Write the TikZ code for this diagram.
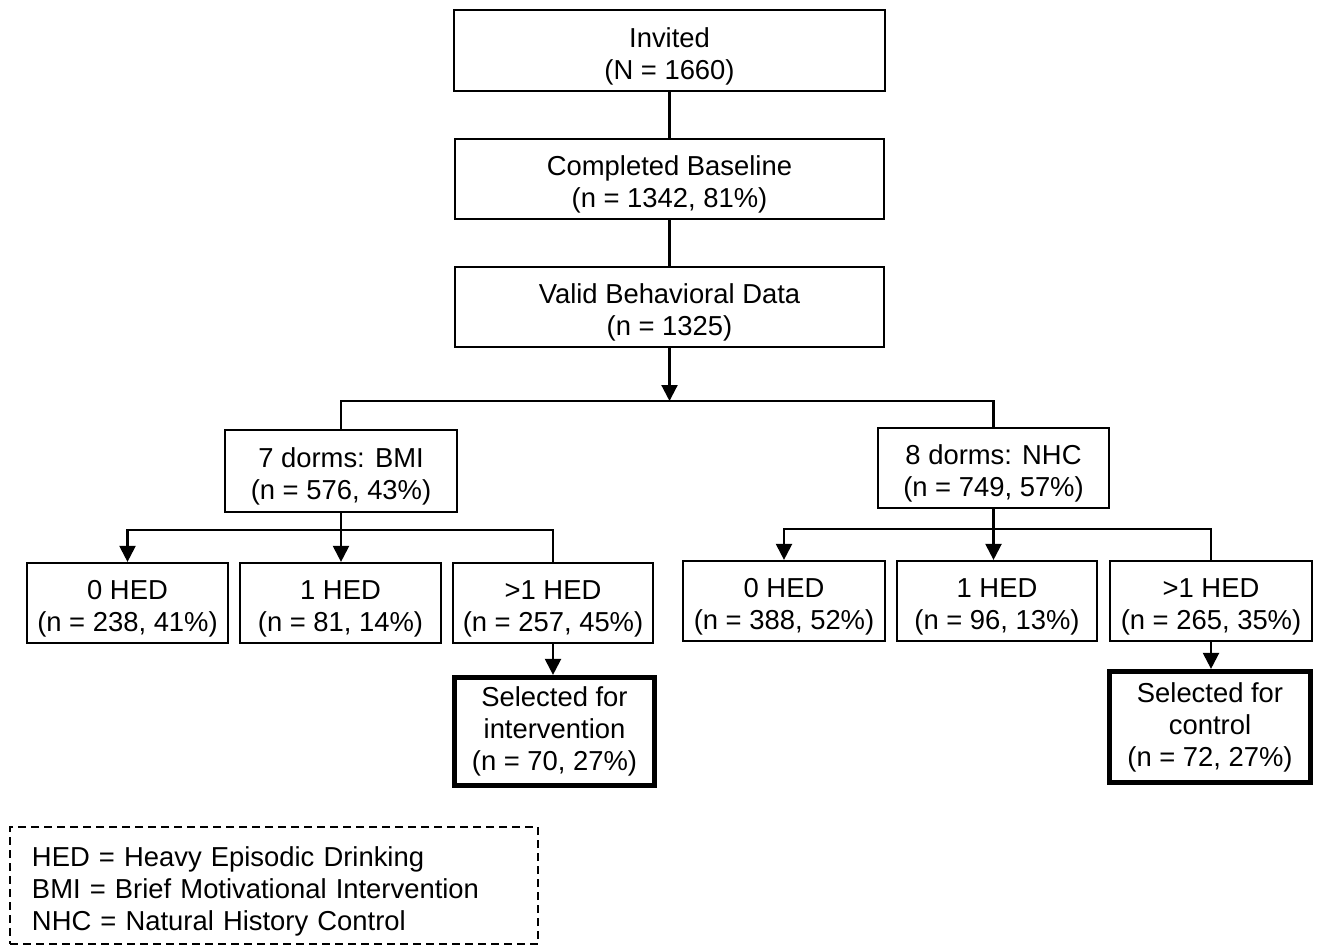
\documentclass[tikz,border=0pt]{standalone}
\usepackage{fontspec}
\setmainfont{Liberation Sans}
\usetikzlibrary{arrows.meta}
\newcommand\topstrut{\rule{0pt}{15.5pt}}
\tikzset{
  box/.style={draw, line width=1.1pt, rectangle, inner sep=0pt, align=center,
    font=\fontsize{13.7}{16}\selectfont},
  selbox/.style={box, line width=2.6pt},
  conn/.style={line width=1.1pt},
  arr/.style={conn, -{Triangle[length=8pt,width=8pt]}},
  legendbox/.style={draw, line width=1.1pt, dash pattern=on 4pt off 2.5pt,
    inner xsep=11pt, inner ysep=0pt, align=left, text width=242pt,
    font=\fontsize{13.7}{16}\selectfont, execute at begin node={\rule{0pt}{16pt}}}
}
\begin{document}
\begin{tikzpicture}[x=0.5pt,y=-0.5pt]
\useasboundingbox (0,0) rectangle (1320,946);
% top chain
\node[box, minimum width=215.5pt, minimum height=40.5pt] (inv) at (669.5,50.5) {\topstrut Invited\\(N = 1660)};
\node[box, minimum width=214.5pt, minimum height=40pt] (base) at (669.5,179) {\topstrut Completed Baseline\\(n = 1342, 81\%)};
\node[box, minimum width=214.5pt, minimum height=40pt] (valid) at (669.5,307) {\topstrut Valid Behavioral Data\\(n = 1325)};
% arms
\node[box, minimum width=116pt, minimum height=41pt] (bmi) at (341,471) {\topstrut 7 dorms: BMI\\(n = 576, 43\%)};
\node[box, minimum width=115.5pt, minimum height=40pt] (nhc) at (993.5,468) {\topstrut 8 dorms: NHC\\(n = 749, 57\%)};
% BMI children
\node[box, minimum width=100.5pt, minimum height=40pt] (b0) at (127.5,603) {\topstrut 0 HED\\(n = 238, 41\%)};
\node[box, minimum width=100.5pt, minimum height=40pt] (b1) at (340.5,603) {\topstrut 1 HED\\(n = 81, 14\%)};
\node[box, minimum width=100pt, minimum height=40pt] (b2) at (553,603) {\topstrut >1 HED\\(n = 257, 45\%)};
\node[selbox, minimum width=100pt, minimum height=54pt] (bsel) at (554.5,731.5) {Selected for\\intervention\\(n = 70, 27\%)};
% NHC children
\node[box, minimum width=101pt, minimum height=40pt] (n0) at (784,601) {\topstrut 0 HED\\(n = 388, 52\%)};
\node[box, minimum width=100pt, minimum height=40pt] (n1) at (997,601) {\topstrut 1 HED\\(n = 96, 13\%)};
\node[box, minimum width=101pt, minimum height=40pt] (n2) at (1211,601) {\topstrut >1 HED\\(n = 265, 35\%)};
\node[selbox, minimum width=100.5pt, minimum height=55.5pt] (nsel) at (1210,727) {Selected for\\control\\(n = 72, 27\%)};
% legend
\node[legendbox, minimum width=264pt, minimum height=58.5pt] (legend) at (274,885.5)
  {HED = Heavy Episodic Drinking\\BMI = Brief Motivational Intervention\\NHC = Natural History Control};
% connectors
\coordinate (split) at (669.5,401);
\coordinate (lj) at (341,530);
\coordinate (rj) at (993.5,529);
\draw[conn] (inv) -- (base);
\draw[conn] (base) -- (valid);
\draw[arr] (valid) -- (split);
\draw[conn] (bmi.north) |- (split) -| (nhc.north);
\draw[conn] (bmi.south) -- (lj);
\draw[arr] (lj) -| (b0.north);
\draw[arr] (lj) -- (lj |- b1.north);
\draw[conn] (lj) -| (b2.north);
\draw[arr] (b2.south) -- (b2.south |- bsel.north);
\draw[conn] (nhc.south) -- (rj);
\draw[arr] (rj) -| (n0.north);
\draw[arr] (rj) -- (rj |- n1.north);
\draw[conn] (rj) -| (n2.north);
\draw[arr] (n2.south) -- (n2.south |- nsel.north);
\end{tikzpicture}
\end{document}
